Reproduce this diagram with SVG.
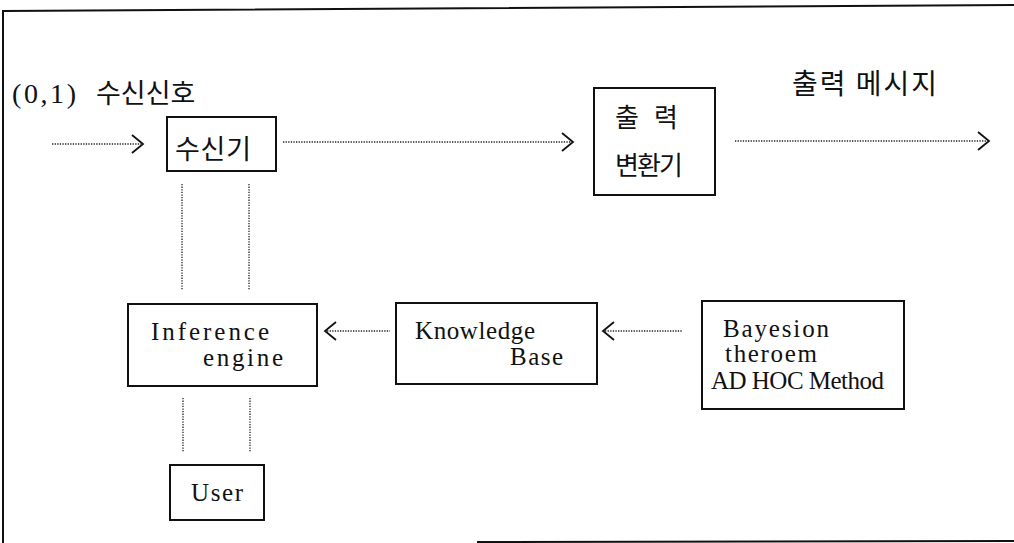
<svg xmlns="http://www.w3.org/2000/svg" width="1014" height="543" viewBox="0 0 1014 543">
<style>
.box{fill:#fff;stroke:#111;stroke-width:2}
.dot{fill:none;stroke:#222;stroke-width:1.3;stroke-dasharray:1.3 1.3}
.chev{fill:none;stroke:#111;stroke-width:1.8}
.ko{font-family:"Noto Sans CJK KR","Noto Sans",sans-serif;font-size:27px;fill:#111}
.en{font-family:"Liberation Serif","DejaVu Serif",serif;font-size:25px;fill:#111}
.frame{fill:none;stroke:#111;stroke-width:2}
</style>
<rect width="1014" height="543" fill="#fff"/>
<g id="frame">
<polyline class="frame" points="3,543 3,11 1014,5"/>
<line class="frame" x1="477" y1="542" x2="1014" y2="541"/>
</g>
<g id="connectors">
<line class="dot" x1="52" y1="144" x2="141" y2="144"/>
<polyline class="chev" points="132,135 143,144 132,153"/>
<line class="dot" x1="283" y1="142" x2="571" y2="142"/>
<polyline class="chev" points="562,133 573,142 562,151"/>
<line class="dot" x1="735" y1="141" x2="986" y2="141"/>
<polyline class="chev" points="978,132 989,141 978,150"/>
<line class="dot" x1="182" y1="184" x2="182" y2="290"/>
<line class="dot" x1="249" y1="184" x2="249" y2="290"/>
<line class="dot" x1="183" y1="398" x2="183" y2="452"/>
<line class="dot" x1="250" y1="398" x2="250" y2="452"/>
<line class="dot" x1="327" y1="331" x2="390" y2="331"/>
<polyline class="chev" points="336,322 325,331 336,340"/>
<line class="dot" x1="605" y1="331" x2="683" y2="331"/>
<polyline class="chev" points="614,322 603,331 614,340"/>
</g>
<g id="label-input"><text y="103"><tspan class="en" x="12" style="font-size:28px" textLength="64" lengthAdjust="spacing">(0,1)</tspan><tspan class="ko" x="96">수신신호</tspan></text></g>
<g id="label-output"><text class="ko" x="792" y="94" style="font-size:28px" textLength="145" lengthAdjust="spacing">출력 메시지</text></g>
<g id="receiver">
<rect class="box" x="167" y="117" width="109" height="54"/>
<text class="ko" x="175" y="159" textLength="76" lengthAdjust="spacing">수신기</text>
</g>
<g id="converter">
<rect class="box" x="594" y="88" width="121" height="107"/>
<text class="ko" y="127" style="font-size:26px"><tspan x="615">출</tspan><tspan x="654">력</tspan></text>
<text class="ko" x="615" y="175" style="font-size:26px" textLength="68" lengthAdjust="spacing">변환기</text>
</g>
<g id="inference">
<rect class="box" x="128" y="304" width="189" height="82"/>
<text class="en" x="151" y="340" textLength="118" lengthAdjust="spacing">Inference</text>
<text class="en" x="203" y="366" textLength="80" lengthAdjust="spacing">engine</text>
</g>
<g id="knowledge">
<rect class="box" x="396" y="303" width="201" height="81"/>
<text class="en" x="415" y="339" textLength="120" lengthAdjust="spacing">Knowledge</text>
<text class="en" x="510" y="365" textLength="53" lengthAdjust="spacing">Base</text>
</g>
<g id="bayes">
<rect class="box" x="702" y="301" width="202" height="108"/>
<text class="en" x="723" y="337" textLength="106" lengthAdjust="spacing">Bayesion</text>
<text class="en" x="725" y="362" textLength="92" lengthAdjust="spacing">theroem</text>
<text class="en" x="711" y="389" textLength="173" lengthAdjust="spacing">AD HOC Method</text>
</g>
<g id="user">
<rect class="box" x="170" y="465" width="94" height="55"/>
<text class="en" x="191" y="501" textLength="52" lengthAdjust="spacing">User</text>
</g>
</svg>
